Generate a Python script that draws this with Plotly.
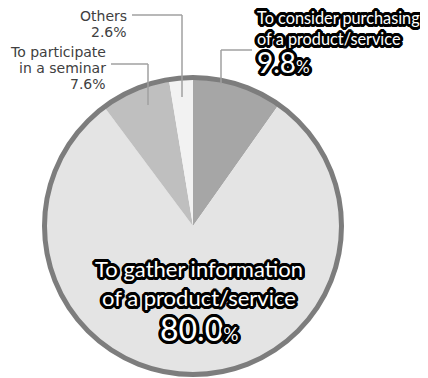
import plotly.graph_objects as go

categories = ["To consider purchasing of a product/service",
              "To gather information of a product/service",
              "To participate in a seminar",
              "Others"]
label_lines = [["To consider purchasing", "of a product/service"],
               ["To gather information", "of a product/service"],
               ["To participate", "in a seminar"],
               ["Others"]]
values = [9.8, 80.0, 7.6, 2.6]
colors = ["#a6a6a6", "#e4e4e4", "#bfbfbf", "#f2f2f2"]

W, H = 428, 378
OFF = 8  # page body margin
CX, CY, R = 193, 226, 149

def px(x):
    return (x - OFF) / W

def py(y):
    return (H - (y - OFF)) / H

fig = go.Figure()
fig.add_trace(go.Pie(
    labels=categories, values=values, sort=False, direction="clockwise",
    rotation=0, textinfo="none", hoverinfo="none",
    marker=dict(colors=colors, line=dict(width=0)),
    domain=dict(x=[px(CX - R), px(CX + R)], y=[py(CY + R), py(CY - R)]),
    showlegend=False,
))

offs = []
for dx in range(-3, 4):
    for dy in range(-3, 4):
        if (dx, dy) != (0, 0) and dx * dx + dy * dy <= 10:
            offs.append((dx, dy))
outline = ", ".join(f"{dx}px {dy}px 0 #000" for dx, dy in offs)
FONT = "Lato"
GFONT = "DejaVu Sans"

shapes = [
    dict(type="circle", xref="paper", yref="paper",
         x0=px(CX - 148.5), x1=px(CX + 148.5), y0=py(CY + 148.5), y1=py(CY - 148.5),
         line=dict(color="#7d7d7d", width=5)),
]
lc = "#a0a0a0"
for (x0, y0, x1, y1) in [(132, 15, 182, 15), (182, 15, 182, 97),
                         (111, 64, 148, 64), (148, 64, 148, 105),
                         (221, 50, 252, 50), (221, 50, 221, 84)]:
    shapes.append(dict(type="line", xref="paper", yref="paper",
                       x0=px(x0), y0=py(y0), x1=px(x1), y1=py(y1),
                       line=dict(color=lc, width=1.5)))

pct = [f"{v:.1f}" for v in values]

annotations = []
def ann(x, y, xa, text, font):
    annotations.append(dict(x=px(x), y=py(y), xref="paper", yref="paper", xanchor=xa,
                            yanchor="middle", text=text, font=font, showarrow=False))

white_big = dict(family=FONT, size=16.3, color="white", shadow=outline)
# To consider purchasing
for t, y in zip(label_lines[0], [17, 38]):
    ann(255, y, "left", t, white_big)
ann(255, 62, "left", f"{pct[0]}<span style='font-size:17px'>%</span>",
    dict(family=FONT, size=28, color="white", shadow=outline))
# To gather information
for t, y in zip(label_lines[1], [268, 297]):
    ann(199, y, "center", t, dict(family=FONT, size=22, color="white", shadow=outline))
ann(199, 328, "center", f"{pct[1]}<span style='font-size:19px'>%</span>",
    dict(family=FONT, size=32, color="white", shadow=outline))
# Others
grey = dict(family=GFONT, size=14, color="#404040")
for t, y in zip(label_lines[3] + [f"{pct[3]}%"], [16, 32]):
    ann(129, y, "right", t, grey)
# Seminar
for t, y in zip(label_lines[2] + [f"{pct[2]}%"], [52, 68, 84]):
    ann(108, y, "right", t, grey)

fig.update_layout(
    width=W, height=H, margin=dict(l=0, r=0, t=0, b=0),
    paper_bgcolor="white", plot_bgcolor="white",
    shapes=shapes, annotations=annotations,
)
fig.write_html("out.html")
